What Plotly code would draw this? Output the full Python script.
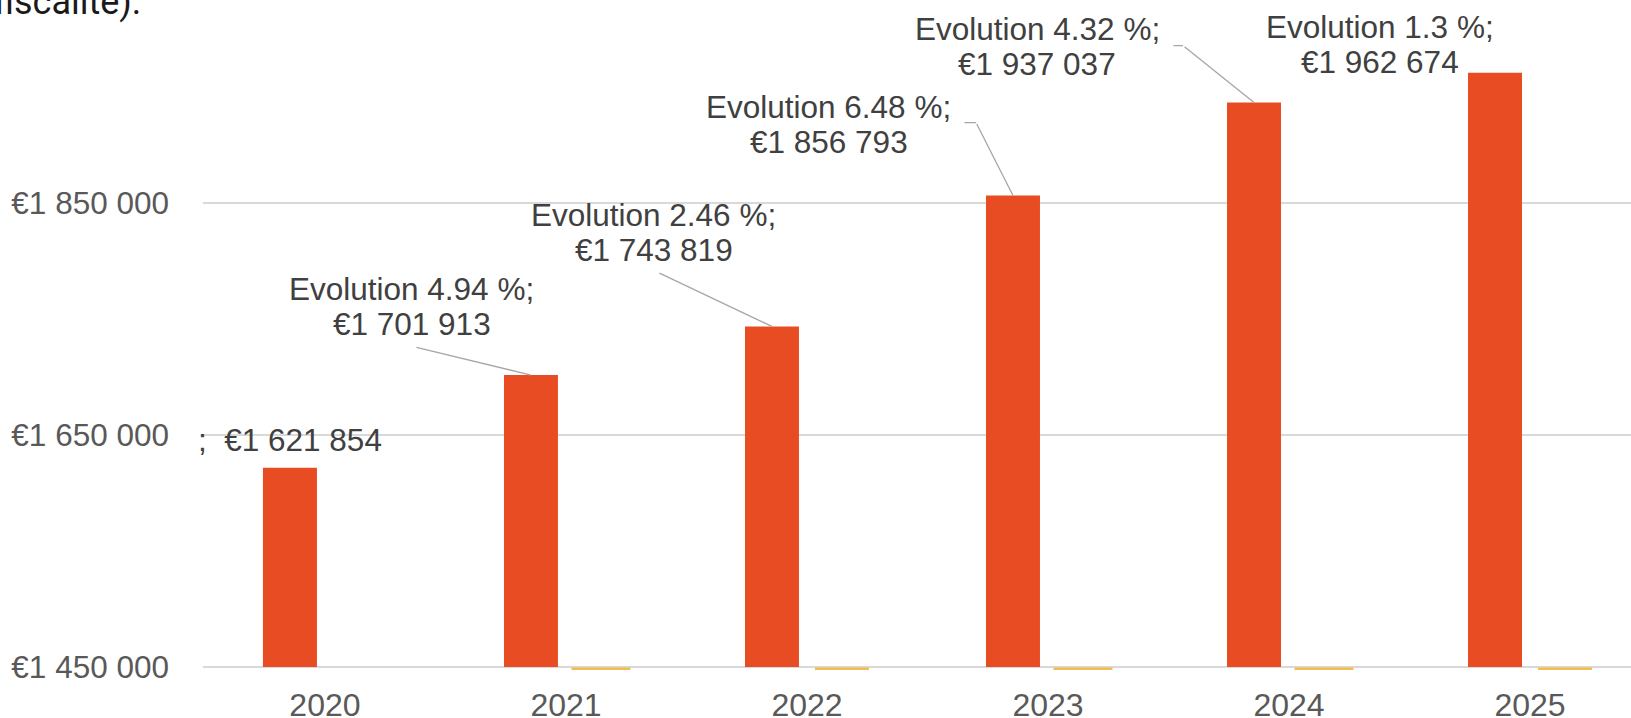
import plotly.graph_objects as go

# data
years = ["2020", "2021", "2022", "2023", "2024", "2025"]
amounts = [1621854, 1701913, 1743819, 1856793, 1937037, 1962674]
evolution = [None, 4.94, 2.46, 6.48, 4.32, 1.3]

# label placement (pixel offsets from each category centre / bar top) and leader lines
label_dx = [-35, -154, -153, -219, -252, -150]
label_dy = [28, 68.5, 93.5, 71, 56.5, 28.5]
LINE_GAP = 35
leader_ax = [None, -116, -114, -37, -71, None]
leader_ay = [None, -28, -54, -73, -57, None]
elbow_len = [None, None, None, 13, 11, None]

ORANGE = "#E84C22"
YELLOW = "#F5BC4F"
FONT = "Liberation Sans"
Y_BASE = 1450000
Y_RANGE = [1447400, 2025500]


def euro(v):
    return "€" + f"{v:,}".replace(",", " ")


fig = go.Figure()
fig.add_trace(go.Bar(x=years, y=[a - Y_BASE for a in amounts], base=Y_BASE,
                     marker=dict(color=ORANGE, line=dict(width=0)), name="Montant"))
fig.add_trace(go.Bar(x=years, y=evolution, base=Y_RANGE[0],
                     marker=dict(color=YELLOW, line=dict(color=YELLOW, width=5)),
                     name="Evolution"))

label_font = dict(family=FONT, size=31.5, color="#404040")
leader = dict(text="", showarrow=True, arrowhead=0, arrowwidth=1.3,
              arrowcolor="#A6A6A6", standoff=0, startstandoff=0)

annotations = []
for i, yr in enumerate(years):
    if evolution[i] is None:
        lines = [";  " + euro(amounts[i])]
    else:
        lines = [f"Evolution {evolution[i]} %;", euro(amounts[i])]
    n = len(lines)
    for k, line in enumerate(lines):
        off = (k - (n - 1) / 2) * LINE_GAP
        # category axis: annotations are placed by category index
        annotations.append(dict(x=i, y=amounts[i], text=line, showarrow=False,
                                xshift=label_dx[i], yshift=label_dy[i] - off,
                                xanchor="center", yanchor="middle", font=label_font))
    if leader_ax[i] is not None:
        annotations.append(dict(leader, x=i, y=amounts[i], xshift=-35,
                                ax=leader_ax[i], ay=leader_ay[i]))
    if elbow_len[i] is not None:
        annotations.append(dict(leader, x=i, y=amounts[i], ax=-elbow_len[i], ay=0,
                                xshift=-35 + leader_ax[i], yshift=-leader_ay[i]))

# cut-off text from the surrounding page
annotations.append(dict(xref="paper", yref="paper", x=0, y=1, text="fiscalité).",
                        showarrow=False, xanchor="left", yanchor="middle",
                        xshift=-211, yshift=-2,
                        font=dict(family="Roboto", size=36, color="#1a1a1a")))

fig.update_layout(
    width=1631, height=718,
    margin=dict(l=203, r=0, t=0, b=48),
    paper_bgcolor="white", plot_bgcolor="white",
    showlegend=False,
    barmode="group", bargap=0.419, bargroupgap=0.229,
    separators=". ",
    annotations=annotations,
)
fig.update_xaxes(type="category", range=[-0.506, 5.419], showline=False,
                 showgrid=False, ticks="", ticklabelstandoff=13, automargin=False,
                 tickfont=dict(family=FONT, size=32, color="#595959"))
fig.update_yaxes(range=Y_RANGE, tick0=Y_BASE, dtick=200000, tickformat=",.0f",
                 tickprefix="€", showgrid=True, gridcolor="#D9D9D9", gridwidth=1.5,
                 zeroline=False, showline=False, ticks="", ticklabelstandoff=33,
                 automargin=False,
                 tickfont=dict(family=FONT, size=31.5, color="#595959"))

# drop the default page margin so the figure sits at the window corner
fig.write_html("out.html", config={"displayModeBar": False},
               post_script="document.body.style.margin = '0';")
